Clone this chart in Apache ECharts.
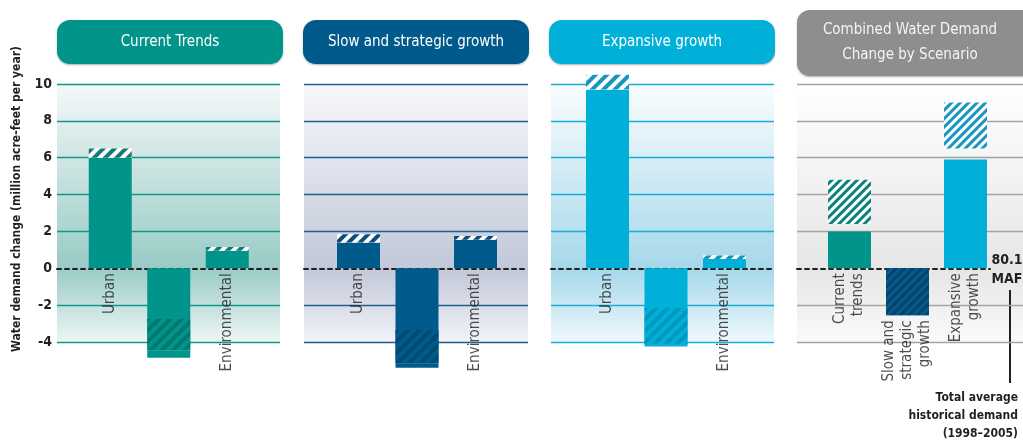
<!DOCTYPE html>
<html>
<head>
<meta charset="utf-8">
<script src="https://cdn.jsdelivr.net/npm/echarts@6/dist/echarts.min.js"></script>
<style>
html, body { margin: 0; padding: 0; background: #fff; }
#main { width: 1023px; height: 441px; }
</style>
</head>
<body>
<div id="main"></div>
<script>
// categories of the three scenario panels
var categories = ['Urban', 'Ag', 'Environmental'];
var combinedCats = ['Current\ntrends', 'Slow and\nstrategic\ngrowth', 'Expansive\ngrowth'];

// scenario values: solid part from zero, end of hatched range, end of bar
var currentSolid = [6.0, -2.75, 0.95];
var currentHatch = [6.5, -4.45, 1.15];
var currentEnd   = [6.5, -4.85, 1.15];

var slowSolid = [1.4, -3.35, 1.55];
var slowHatch = [1.85, -5.15, 1.75];
var slowEnd   = [1.85, -5.4, 1.75];

var expSolid = [9.7, -2.15, 0.5];
var expHatch = [10.5, -4.15, 0.7];
var expEnd   = [10.5, -4.25, 0.7];

// combined panel: solid part, then a hatched range
var combinedSolid     = [2.0, 0, 5.9];
var combinedHatchFrom = [2.4, 0, 6.5];
var combinedHatchTo   = [4.8, -2.55, 9.0];

var FONT = "'Liberation Sans Narrow', 'DejaVu Sans Condensed', sans-serif";
var INK = '#231f20';
var TOP = 84, HEIGHT = 258;

var chart = echarts.init(document.getElementById('main'));

function stripes(color, bg, on, off) {
    return {
        symbol: 'rect', symbolSize: 1,
        dashArrayX: [1, 0], dashArrayY: [on || 4, off || 4],
        rotation: -Math.PI / 4,
        color: color, backgroundColor: bg
    };
}

function gradient(c) {
    return new echarts.graphic.LinearGradient(0, 0, 0, 1, [
        { offset: 0, color: c[0] },
        { offset: 0.714, color: c[1] },
        { offset: 1, color: c[2] }
    ]);
}

function lineColors(c) {
    // no split line at 0, the dashed zero line is drawn there
    return [c, c, 'transparent', c, c, c, c, c];
}

var panels = [
    { title: 'Current Trends', color: '#00948a', dark: '#00786f', stripe: '#127c74', line: '#10968b',
      bg: ['#f4f8f8', '#99cbc6', '#eef6f5'], frame: [57, 223], bars: [81, 175.5],
      solid: currentSolid, hatch: currentHatch, end: currentEnd },
    { title: 'Slow and strategic growth', color: '#005a8b', dark: '#004a73', stripe: '#0b4e7a', line: '#1c5f8e',
      bg: ['#f7f8fb', '#c2c8d9', '#f2f3f8'], frame: [304, 224], bars: [329.25, 175.5],
      solid: slowSolid, hatch: slowHatch, end: slowEnd },
    { title: 'Expansive growth', color: '#00b0d8', dark: '#0098bf', stripe: '#1597bd', line: '#16aed6',
      bg: ['#fafdfe', '#a5d8ea', '#eef8fc'], frame: [551, 223], bars: [578.25, 175.5],
      solid: expSolid, hatch: expHatch, end: expEnd }
];

var grids = [], xAxes = [], yAxes = [], series = [];

function addFrame(left, width, bg, lc, withLabels, withZero) {
    var idx = grids.length;
    grids.push({ left: left, width: width, top: TOP, height: HEIGHT, show: true,
                 backgroundColor: gradient(bg), borderWidth: 0 });
    xAxes.push({ type: 'value', gridIndex: idx, min: 0, max: 1,
                 axisLabel: { show: false }, axisTick: { show: false }, splitLine: { show: false },
                 axisLine: { show: withZero, onZero: true, lineStyle: { color: INK, width: 2, type: [4, 4] } } });
    yAxes.push({ type: 'value', gridIndex: idx, min: -4, max: 10, interval: 2,
                 axisLine: { show: false }, axisTick: { show: false },
                 axisLabel: { show: withLabels, color: INK, fontFamily: FONT, fontWeight: 'bold', fontSize: 14, margin: 5 },
                 splitLine: { show: true, lineStyle: { color: lineColors(lc), width: 1.3 } } });
    return idx;
}

function addBarGrid(left, width, cats) {
    var idx = grids.length;
    grids.push({ left: left, width: width, top: TOP, height: HEIGHT });
    xAxes.push({ type: 'category', gridIndex: idx, data: cats, show: false });
    yAxes.push({ type: 'value', gridIndex: idx, min: -4, max: 10, interval: 2, show: false });
    return idx;
}

function labelSeries(idx, names, anchors) {
    return {
        type: 'scatter', xAxisIndex: idx, yAxisIndex: idx, symbolSize: 1, silent: true,
        itemStyle: { color: 'transparent' },
        data: anchors,
        label: {
            show: true, position: 'inside', rotate: 90, align: 'right', verticalAlign: 'middle',
            padding: [0, 5, 0, 0], color: INK, fontFamily: FONT, fontSize: 15, lineHeight: 18,
            formatter: function (p) { return names[p.dataIndex]; }
        }
    };
}

panels.forEach(function (p, i) {
    addFrame(p.frame[0], p.frame[1], p.bg, p.line, i === 0, true);
    var g = addBarGrid(p.bars[0], p.bars[1], categories);
    var stack = 'p' + i;
    series.push({
        type: 'bar', xAxisIndex: g, yAxisIndex: g, stack: stack, barWidth: 43, clip: false,
        itemStyle: { color: p.color }, data: p.solid
    });
    series.push({
        type: 'bar', xAxisIndex: g, yAxisIndex: g, stack: stack, barWidth: 43, clip: false,
        data: p.hatch.map(function (v, k) {
            var d = v - p.solid[k];
            var st = d >= 0 ? stripes(p.stripe, '#ffffff') : stripes(p.dark, p.color);
            return { value: d, itemStyle: { color: st.backgroundColor, decal: st } };
        })
    });
    series.push({
        type: 'bar', xAxisIndex: g, yAxisIndex: g, stack: stack, barWidth: 43, clip: false,
        itemStyle: { color: p.color },
        data: p.end.map(function (v, k) { return v - p.hatch[k]; })
    });
    series.push(labelSeries(g, categories, p.end.map(function (v) { return Math.min(0, v); })));
});

// combined panel
var grayBg = ['#ffffff', '#e6e6e6', '#fafafa'];
addFrame(797, 193, grayBg, '#a3a3a3', false, true);
addFrame(990, 33, grayBg, '#a3a3a3', false, false);
var cg = addBarGrid(820.5, 174, combinedCats);
var combColors = ['#00948a', '#005a8b', '#00b0d8'];
var combStripes = [stripes('#0a8278', '#ffffff', 3, 3), stripes('#00446f', '#0a5888', 3, 3),
                   stripes('#1996bd', '#ffffff', 3, 3)];
series.push({
    type: 'bar', xAxisIndex: cg, yAxisIndex: cg, stack: 'c', barWidth: 43,
    data: combinedSolid.map(function (v, k) { return { value: v, itemStyle: { color: combColors[k] } }; })
});
series.push({
    type: 'bar', xAxisIndex: cg, yAxisIndex: cg, stack: 'c', barWidth: 43,
    itemStyle: { color: 'transparent' },
    data: combinedHatchFrom.map(function (v, k) { return v - combinedSolid[k]; })
});
series.push({
    type: 'bar', xAxisIndex: cg, yAxisIndex: cg, stack: 'c', barWidth: 43,
    data: combinedHatchTo.map(function (v, k) {
        return { value: v - combinedHatchFrom[k],
                 itemStyle: { color: combStripes[k].backgroundColor, decal: combStripes[k] } };
    })
});
series.push(labelSeries(cg, combinedCats, combinedHatchTo.map(function (v) { return Math.min(0, v); })));

function titleBox(x, y, w, h, color, text, fill) {
    return {
        type: 'group',
        children: [
            { type: 'rect', shape: { x: x, y: y, width: w, height: h, r: 13 },
              style: { fill: color, shadowBlur: 2, shadowOffsetY: 1, shadowColor: 'rgba(0,0,0,0.3)' } },
            { type: 'text', x: x + w / 2, y: y + h / 2,
              style: { text: text, fill: fill || '#ffffff', font: '15px ' + FONT, align: 'center',
                       verticalAlign: 'middle', lineHeight: 25 } }
        ]
    };
}

var boxCombined = titleBox(797, 10, 240, 66, '#8e8e8e', 'Combined Water Demand\nChange by Scenario', '#f4f4f4');
boxCombined.children[1].x = 910;

chart.setOption({
    animation: false,
    grid: grids,
    xAxis: xAxes,
    yAxis: yAxes,
    series: series,
    graphic: [
        titleBox(57, 20, 226, 44, '#00948a', 'Current Trends'),
        titleBox(303, 20, 226, 44, '#005a8b', 'Slow and strategic growth'),
        titleBox(549, 20, 226, 44, '#00b0d8', 'Expansive growth'),
        boxCombined,
        { type: 'text', x: 17, y: 199, rotation: Math.PI / 2,
          style: { text: 'Water demand change (million acre-feet per year)', fill: INK,
                   font: 'bold 12px ' + FONT, align: 'center', verticalAlign: 'middle' } },
        { type: 'text', x: 1007, y: 270,
          style: { text: '80.1\nMAF', fill: INK, font: 'bold 14px ' + FONT, align: 'center',
                   verticalAlign: 'middle', lineHeight: 19 } },
        { type: 'line', shape: { x1: 1010, y1: 290, x2: 1010, y2: 383 },
          style: { stroke: INK, lineWidth: 2 } },
        { type: 'text', x: 1018, y: 389,
          style: { text: 'Total average\nhistorical demand\n(1998\u20132005)', fill: INK,
                   font: 'bold 12px ' + FONT, align: 'right', verticalAlign: 'top', lineHeight: 18 } }
    ]
});
</script>
</body>
</html>
